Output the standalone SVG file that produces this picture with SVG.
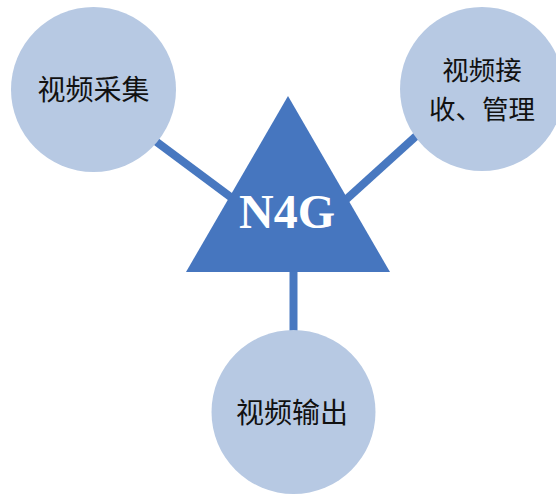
<svg xmlns="http://www.w3.org/2000/svg" width="556" height="495" viewBox="0 0 556 495">
<style>
.conn{stroke:#4878c0;stroke-width:8;fill:none}
.circ{fill:#b7c9e3}
.lbl{font-family:"Noto Sans CJK SC","Noto Sans",sans-serif;font-size:28px;fill:#111;text-anchor:middle}
.lbl2{font-size:26.5px}
.tri{fill:#4676bf}
.n4g{font-family:"Liberation Serif",serif;font-weight:bold;font-size:48px;fill:#fff;text-anchor:middle}
</style>
<rect width="556" height="495" fill="#fff"/>
<g id="connectors">
<line class="conn" x1="150" y1="137" x2="240" y2="204"/>
<line class="conn" x1="425" y1="128" x2="340" y2="205"/>
<line class="conn" x1="293.5" y1="260" x2="293.5" y2="335"/>
</g>
<g id="node-capture">
<circle class="circ" cx="93.5" cy="89.5" r="82.5"/>
<text class="lbl" x="93.5" y="100">视频采集</text>
</g>
<g id="node-receive">
<circle class="circ" cx="482" cy="89" r="82"/>
<text class="lbl lbl2" x="482" y="80">视频接</text>
<text class="lbl lbl2" x="482" y="118.5">收、管理</text>
</g>
<g id="node-output">
<circle class="circ" cx="293.5" cy="412" r="82"/>
<text class="lbl" x="292" y="423">视频输出</text>
</g>
<g id="node-n4g">
<polygon class="tri" points="288,96 186,272 390,272"/>
<text class="n4g" x="287" y="228">N4G</text>
</g>
</svg>
